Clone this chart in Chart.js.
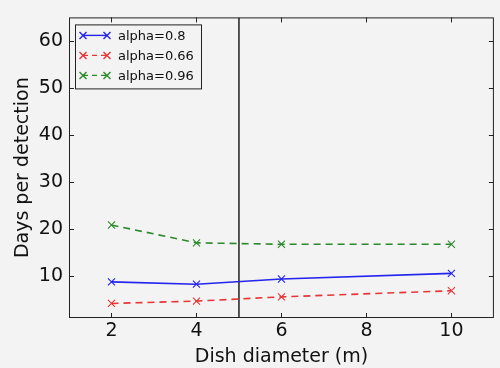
<!DOCTYPE html>
<html>
<head>
<meta charset="utf-8">
<script src="https://cdn.jsdelivr.net/npm/chart.js@4.4.1/dist/chart.umd.min.js"></script>
<style>
  html, body { margin: 0; padding: 0; background: #f3f3f3; }
  #wrap { width: 500px; height: 368px; }
</style>
</head>
<body>
<div id="wrap"><canvas id="detections"></canvas></div>
<script>
// dish diameters (m)
var diameters = [2, 4, 6, 10];
var alpha080 = [8.7, 8.2, 9.3, 10.5];
var alpha066 = [4.1, 4.6, 5.5, 6.8];
var alpha096 = [20.8, 17.0, 16.7, 16.7];
var seriesLabels = ['alpha=0.8', 'alpha=0.66', 'alpha=0.96'];
var xTicks = [2, 4, 6, 8, 10];
var yTicks = [10, 20, 30, 40, 50, 60];
var cutX = 5;

function toPoints(ys) {
    return diameters.map(function(x, i) { return {x: x, y: ys[i]}; });
}

var colors = ['#2424ee', '#e83535', '#2b8a2b'];
var dashes = [[], [7, 5], [7, 5]];

var bgPlugin = {
    id: 'bg',
    beforeDraw: function(chart) {
        var ctx = chart.ctx;
        ctx.save();
        ctx.fillStyle = '#f3f3f3';
        ctx.fillRect(0, 0, chart.width, chart.height);
        ctx.restore();
    }
};

// box around plot, inward ticks on all four sides, legend box
var framePlugin = {
    id: 'frame',
    afterDraw: function(chart) {
        var ctx = chart.ctx;
        var a = chart.chartArea;
        var xs = chart.scales.x, ys = chart.scales.y;
        ctx.save();
        ctx.strokeStyle = '#222';
        ctx.lineWidth = 1;
        ctx.strokeRect(a.left + 0.5, a.top + 0.5, a.right - a.left - 1, a.bottom - a.top - 1);
        ctx.beginPath();
        xTicks.forEach(function(v) {
            var px = Math.round(xs.getPixelForValue(v)) + 0.5;
            ctx.moveTo(px, a.bottom); ctx.lineTo(px, a.bottom - 5);
            ctx.moveTo(px, a.top); ctx.lineTo(px, a.top + 5);
        });
        yTicks.forEach(function(v) {
            var py = Math.round(ys.getPixelForValue(v)) + 0.5;
            ctx.moveTo(a.left, py); ctx.lineTo(a.left + 5, py);
            ctx.moveTo(a.right, py); ctx.lineTo(a.right - 5, py);
        });
        ctx.stroke();

        // legend
        var lx = a.left + 6, ly = a.top + 7;
        ctx.fillStyle = '#f3f3f3';
        ctx.fillRect(lx, ly, 126, 64);
        ctx.strokeStyle = '#222';
        ctx.strokeRect(lx + 0.5, ly + 0.5, 126, 64);
        ctx.font = '13px "DejaVu Sans"';
        ctx.textBaseline = 'middle';
        seriesLabels.forEach(function(lab, i) {
            var cy = ly + 11 + i * 20;
            ctx.strokeStyle = colors[i];
            ctx.lineWidth = 1.4;
            ctx.setLineDash(dashes[i].length ? [5, 4] : []);
            ctx.beginPath();
            ctx.moveTo(lx + 8, cy); ctx.lineTo(lx + 32, cy);
            ctx.stroke();
            ctx.setLineDash([]);
            [lx + 8, lx + 32].forEach(function(mx) {
                ctx.beginPath();
                ctx.moveTo(mx - 3.5, cy - 3.5); ctx.lineTo(mx + 3.5, cy + 3.5);
                ctx.moveTo(mx - 3.5, cy + 3.5); ctx.lineTo(mx + 3.5, cy - 3.5);
                ctx.stroke();
            });
            ctx.fillStyle = '#111';
            ctx.fillText(lab, lx + 43, cy + 1);
        });
        ctx.restore();
    }
};

document.addEventListener("DOMContentLoaded", function() {
    var ctx = document.getElementById('detections');
    var sets = [alpha080, alpha066, alpha096].map(function(ys, i) {
        return {
            label: seriesLabels[i],
            data: toPoints(ys),
            borderColor: colors[i],
            backgroundColor: colors[i],
            borderWidth: 1.6,
            borderDash: dashes[i],
            showLine: true,
            pointStyle: 'crossRot',
            pointRadius: 5,
            pointBorderWidth: 1.1,
            tension: 0
        };
    });
    sets.push({
        label: 'cut',
        data: [{x: cutX, y: 1}, {x: cutX, y: 65}],
        borderColor: '#000',
        borderWidth: 1.3,
        showLine: true,
        pointRadius: 0
    });

    new Chart(ctx, {
        type: 'scatter',
        data: { datasets: sets },
        options: {
            responsive: true,
            maintainAspectRatio: false,
            animation: false,
            layout: { padding: { top: 16, right: 5, left: 0, bottom: 0 } },
            plugins: { legend: { display: false }, tooltip: { enabled: false } },
            scales: {
                x: {
                    min: 1, max: 11,
                    afterBuildTicks: function(s) { s.ticks = xTicks.map(function(v) { return {value: v}; }); },
                    afterFit: function(s) { s.height = 50; },
                    grid: { display: false, drawTicks: false },
                    border: { display: false },
                    ticks: { color: '#111', padding: 2, font: { family: 'DejaVu Sans', size: 19 } },
                    title: { display: true, text: 'Dish diameter (m)', color: '#111',
                             padding: { top: 0, bottom: 0 }, font: { family: 'DejaVu Sans', size: 19 } }
                },
                y: {
                    min: 1, max: 65,
                    afterBuildTicks: function(s) { s.ticks = yTicks.map(function(v) { return {value: v}; }); },
                    afterFit: function(s) { s.width = 69; },
                    grid: { display: false, drawTicks: false },
                    border: { display: false },
                    ticks: { color: '#111', padding: 6, font: { family: 'DejaVu Sans', size: 19 } },
                    title: { display: true, text: 'Days per detection', color: '#111',
                             padding: { top: 12, bottom: 0 }, font: { family: 'DejaVu Sans', size: 19 } }
                }
            }
        },
        plugins: [bgPlugin, framePlugin]
    });
});
</script>
</body>
</html>
